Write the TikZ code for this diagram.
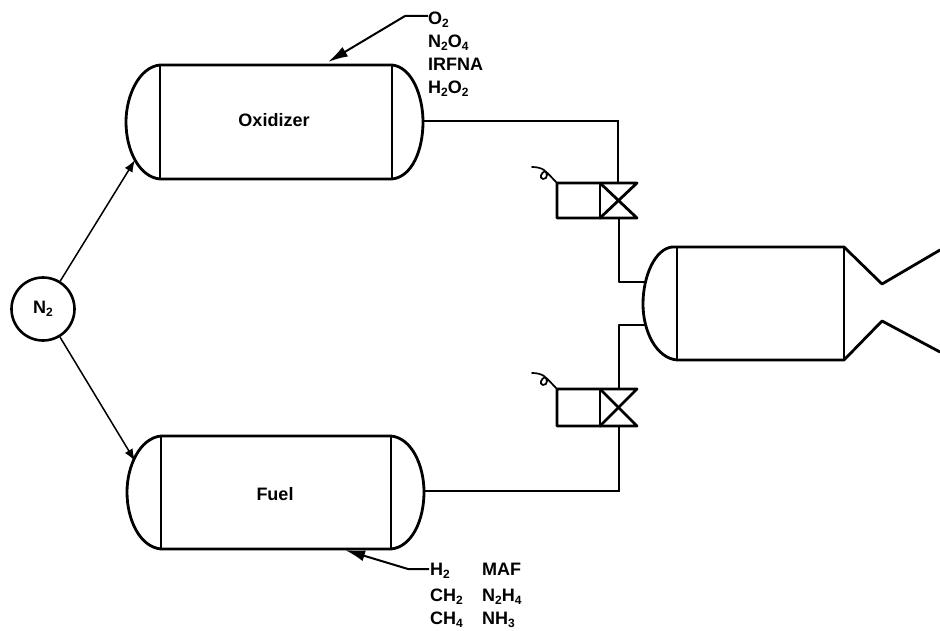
\documentclass[tikz,border=0pt]{standalone}
\usepackage{fontspec}
\setmainfont{Liberation Sans}[BoldFont={Liberation Sans Bold}]
\usetikzlibrary{arrows.meta}
\newcommand{\sbs}[1]{\raisebox{-3pt}{\fontsize{12}{12}\selectfont #1}}
\tikzset{
  x=1pt,y=-1pt,
  thick line/.style={line width=2.8pt,line join=round,line cap=round},
  mid line/.style={line width=2pt,line join=round},
  thin line/.style={line width=1.5pt},
  lbl/.style={font=\fontsize{18}{20}\selectfont\bfseries,inner sep=0pt,anchor=base west},
  tip/.style={-{Latex[length=20pt,width=11pt]}},
  smalltip/.style={-{Latex[length=12pt,width=9pt]}},
}
\begin{document}
\begin{tikzpicture}
\useasboundingbox (0,0) rectangle (940,631);
% N2
\node[circle,draw,line width=2.6pt,minimum size=63pt,inner sep=0pt,font=\fontsize{18}{20}\selectfont\bfseries] (n2) at (43,309) {N\sbs{2}};
% Oxidizer tank
\draw[thick line] (160,65) -- (392,65) .. controls (412,67) and (423,96) .. (423,122) .. controls (423,150) and (412,177) .. (392,179) -- (160,179) .. controls (139,177) and (126,150) .. (126,122) .. controls (126,96) and (139,67) .. (160,65) -- cycle;
\draw[mid line] (160,65) -- (160,179);
\draw[mid line] (392,65) -- (392,179);
\node[lbl,anchor=center] (ox) at (274,120) {Oxidizer};
% Fuel tank
\draw[thick line] (161,436) -- (391,436) .. controls (412,438) and (424,466) .. (424,492) .. controls (424,520) and (412,547) .. (391,549) -- (161,549) .. controls (140,547) and (127,520) .. (127,492) .. controls (127,466) and (140,438) .. (161,436) -- cycle;
\draw[mid line] (161,436) -- (161,549);
\draw[mid line] (391,436) -- (391,549);
\node[lbl,anchor=center] (fu) at (275,494) {Fuel};
% N2 connectors
\coordinate (oxin) at (135,160);
\coordinate (fuin) at (135,461);
\draw[thin line,smalltip] (n2) -- (oxin);
\draw[thin line,smalltip] (n2) -- (fuin);
% Chamber
\draw[thick line] (672,247) -- (844,247) -- (882,284) -- (940,250);
\draw[thick line] (940,352) -- (882,321) -- (844,360) -- (677,360) .. controls (656,358) and (643,331) .. (643,304) .. controls (643,276) and (655,249) .. (672,247);
\draw[mid line] (677,247) -- (677,360);
\draw[mid line] (844,247) -- (844,360);
% Valves
\foreach \n/\y/\h in {a/183/35,b/389/37}{
  \coordinate (\n tl) at (557,\y);
  \coordinate (\n bl) at (557,\y+\h);
  \coordinate (\n m) at (600,\y);
  \coordinate (\n mb) at (600,\y+\h);
  \coordinate (\n tr) at (637,\y);
  \coordinate (\n br) at (637,\y+\h);
  \draw[thick line] (\n tl) -- (\n tr) -- (\n mb) -- (\n bl) -- cycle;
  \draw[thick line] (\n m) -- (\n br) -- (\n mb);
  \draw[mid line] (\n m) -- (\n mb);
  \draw[line width=1.7pt,line cap=round] (\n tl) .. controls (552,\y-5) and (548,\y-10) .. (545,\y-12) .. controls (541,\y-10) and (539,\y-5) .. (543,\y-4) .. controls (548,\y-4) and (548,\y-10) .. (544,\y-13) .. controls (541,\y-15) and (537,\y-16) .. (532,\y-16);
}
% Pipes
\coordinate (p1) at (423,121);
\coordinate (p2) at (618,121);
\coordinate (p3) at (618,183);
\draw[thin line] (p1) -- (p2) -- (p3);
\coordinate (p4) at (619,218);
\coordinate (p5) at (619,282);
\coordinate (p6) at (645,282);
\draw[mid line] (p4) -- (p5) -- (p6);
\coordinate (p7) at (645,325);
\coordinate (p8) at (619,325);
\coordinate (p9) at (619,389);
\draw[mid line] (p7) -- (p8) -- (p9);
\coordinate (p10) at (619,426);
\coordinate (p11) at (619,491);
\coordinate (p12) at (424,491);
\draw[thin line] (p10) -- (p11) -- (p12);
% Labels top
\coordinate (o1) at (428,16);
\coordinate (o2) at (405,16);
\coordinate (o3) at (328,62);
\draw[mid line,tip] (o1) -- (o2) -- (o3);
\node[lbl] (o2l) at (428,25) {O\sbs{2}};
\node[lbl] (n2o4) at (428,48) {N\sbs{2}O\sbs{4}};
\node[lbl] (irfna) at (428,71) {IRFNA};
\node[lbl] (h2o2) at (428,94) {H\sbs{2}O\sbs{2}};
% Labels bottom
\coordinate (f1) at (429,569);
\coordinate (f2) at (408,569);
\coordinate (f3) at (345,550);
\draw[mid line,tip] (f1) -- (f2) -- (f3);
\node[lbl] (h2) at (430,575) {H\sbs{2}};
\node[lbl] (ch2) at (430,601) {CH\sbs{2}};
\node[lbl] (ch4) at (430,624) {CH\sbs{4}};
\node[lbl] (maf) at (482,575) {MAF};
\node[lbl] (n2h4) at (482,601) {N\sbs{2}H\sbs{4}};
\node[lbl] (nh3) at (482,624) {NH\sbs{3}};
\end{tikzpicture}
\end{document}
